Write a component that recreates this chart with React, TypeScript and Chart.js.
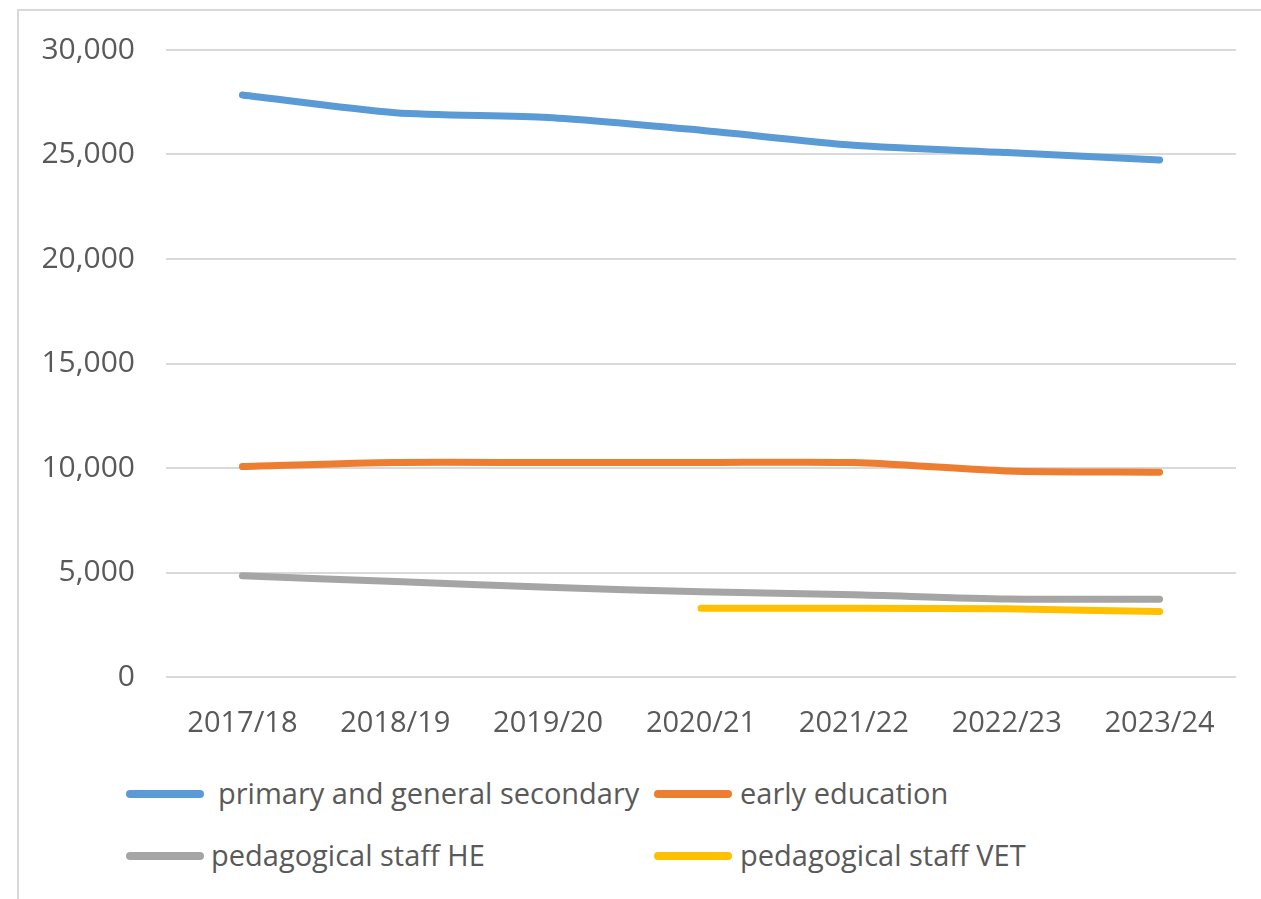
import React, { useEffect, useRef } from "react";
import { Chart, registerables } from "chart.js";

Chart.register(...registerables);

const categories = ["2017/18", "2018/19", "2019/20", "2020/21", "2021/22", "2022/23", "2023/24"];
const primaryGeneralSecondary = [27850, 27000, 26770, 26160, 25440, 25090, 24740];
const earlyEducation = [10070, 10260, 10260, 10260, 10260, 9860, 9800];
const pedagogicalStaffHE = [4840, 4570, 4290, 4080, 3930, 3730, 3720];
const pedagogicalStaffVET = [null, null, null, 3290, 3290, 3260, 3130];
const yTicks = [0, 5000, 10000, 15000, 20000, 25000, 30000];

const seriesNames = [
  "primary and general secondary",
  "early education",
  "pedagogical staff HE",
  "pedagogical staff VET",
];
const seriesColors = ["#5B9BD5", "#ED7D31", "#A5A5A5", "#FFC000"];

const FONT = "'Open Sans', 'Noto Sans', sans-serif";
const TEXT = "#595959";

export default function App() {
  const ref = useRef<HTMLCanvasElement | null>(null);

  useEffect(() => {
    if (!ref.current) return;
    const data = [primaryGeneralSecondary, earlyEducation, pedagogicalStaffHE, pedagogicalStaffVET];
    const chart = new Chart(ref.current, {
      type: "line",
      data: {
        labels: categories,
        datasets: data.map((d, i) => ({
          label: seriesNames[i],
          data: d as any,
          borderColor: seriesColors[i],
          backgroundColor: seriesColors[i],
          borderWidth: 7,
          pointRadius: 0,
          tension: 0.25,
          borderCapStyle: "round" as const,
          borderJoinStyle: "round" as const,
          spanGaps: false,
        })),
      },
      options: {
        responsive: false,
        animation: false,
        devicePixelRatio: 1,
        layout: { padding: { top: 50, right: 25, left: 0, bottom: 0 } },
        plugins: { legend: { display: false }, tooltip: { enabled: false } },
        scales: {
          x: {
            offset: true,
            grid: { display: false },
            border: { display: false },
            ticks: { color: TEXT, font: { family: FONT, size: 29 }, padding: 21, maxRotation: 0, autoSkip: false },
            afterFit: (s: any) => {
              s.height = 83;
              s.paddingLeft = 0;
              s.paddingRight = 0;
            },
          },
          y: {
            min: 0,
            max: 30000,
            afterBuildTicks: (s: any) => {
              s.ticks = yTicks.map((v) => ({ value: v }));
            },
            grid: { color: "#D9D9D9", lineWidth: 2, drawTicks: false },
            border: { display: false },
            ticks: {
              color: TEXT,
              font: { family: FONT, size: 30 },
              padding: 31,
              callback: (v: any) => Number(v).toLocaleString("en-US"),
            },
            afterFit: (s: any) => {
              s.width = 166;
            },
          },
        },
      },
    });
    return () => chart.destroy();
  }, []);

  const legendItems = [
    { x: 126, y: 794, tx: 218 },
    { x: 654, y: 794, tx: 740 },
    { x: 126, y: 856, tx: 211 },
    { x: 654, y: 856, tx: 740 },
  ];

  return (
    <div
      style={{
        position: "fixed",
        left: 0,
        top: 0,
        width: 1261,
        height: 899,
        overflow: "hidden",
        background: "#fff",
      }}
    >
      <div
        style={{
          position: "absolute",
          left: 17,
          top: 9,
          width: 1400,
          height: 1000,
          border: "2px solid #D9D9D9",
        }}
      />
      <canvas
        ref={ref}
        width={1261}
        height={760}
        style={{ position: "absolute", left: 0, top: 0, width: 1261, height: 760 }}
      />
      {legendItems.map((it, i) => (
        <React.Fragment key={i}>
          <div
            style={{
              position: "absolute",
              left: it.x,
              top: it.y - 4,
              width: 78,
              height: 8,
              borderRadius: 4,
              background: seriesColors[i],
            }}
          />
          <div
            style={{
              position: "absolute",
              left: it.tx,
              top: it.y - 22,
              height: 42,
              lineHeight: "42px",
              fontFamily: FONT,
              fontSize: 29,
              color: TEXT,
              whiteSpace: "nowrap",
            }}
          >
            {seriesNames[i]}
          </div>
        </React.Fragment>
      ))}
    </div>
  );
}
